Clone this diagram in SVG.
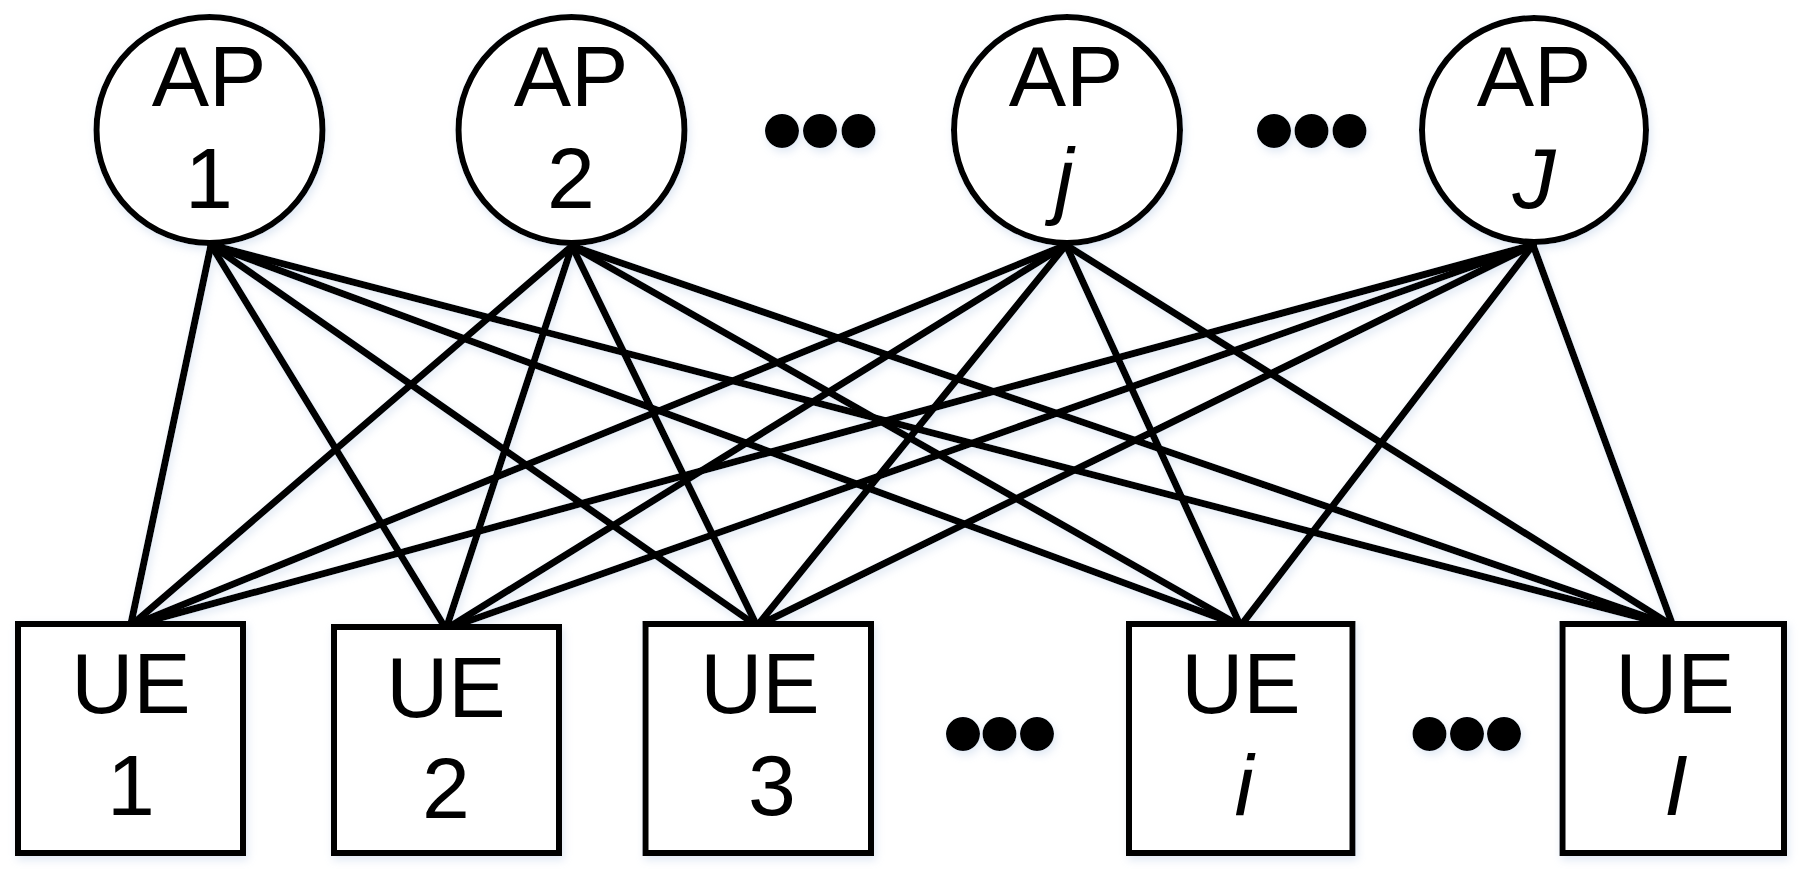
<svg xmlns="http://www.w3.org/2000/svg" width="1807" height="869" viewBox="0 0 1807 869">
<style>
.nd{fill:#fff;stroke:#000;stroke-width:6}
.ln{stroke:#000;stroke-width:7;stroke-linecap:round}
.t{font-family:"Liberation Sans",Arial,sans-serif;font-size:86px;fill:#000;text-anchor:middle}
.it{font-style:italic}
.dot{fill:#000}
</style>
<defs>
<filter id="sh" x="-10%" y="-10%" width="120%" height="120%">
<feGaussianBlur in="SourceAlpha" stdDeviation="4" result="b"/>
<feOffset dx="2" dy="4" in="b" result="o"/>
<feFlood flood-color="#b9cde6" flood-opacity="0.45"/>
<feComposite in2="o" operator="in" result="s"/>
<feMerge><feMergeNode in="s"/><feMergeNode in="SourceGraphic"/></feMerge>
</filter>
</defs>
<rect width="1807" height="869" fill="#fff"/>
<g filter="url(#sh)">
<g id="connectors">
<line class="ln" x1="211" y1="245" x2="130.5" y2="626"/>
<line class="ln" x1="211" y1="245" x2="446" y2="629"/>
<line class="ln" x1="211" y1="245" x2="757" y2="626"/>
<line class="ln" x1="211" y1="245" x2="1240.5" y2="626"/>
<line class="ln" x1="211" y1="245" x2="1673" y2="626"/>
<line class="ln" x1="572" y1="246" x2="130.5" y2="626"/>
<line class="ln" x1="572" y1="246" x2="446" y2="629"/>
<line class="ln" x1="572" y1="246" x2="757" y2="626"/>
<line class="ln" x1="572" y1="246" x2="1240.5" y2="626"/>
<line class="ln" x1="572" y1="246" x2="1673" y2="626"/>
<line class="ln" x1="1066" y1="245" x2="130.5" y2="626"/>
<line class="ln" x1="1066" y1="245" x2="446" y2="629"/>
<line class="ln" x1="1066" y1="245" x2="757" y2="626"/>
<line class="ln" x1="1066" y1="245" x2="1240.5" y2="626"/>
<line class="ln" x1="1066" y1="245" x2="1673" y2="626"/>
<line class="ln" x1="1533" y1="245" x2="130.5" y2="626"/>
<line class="ln" x1="1533" y1="245" x2="446" y2="629"/>
<line class="ln" x1="1533" y1="245" x2="757" y2="626"/>
<line class="ln" x1="1533" y1="245" x2="1240.5" y2="626"/>
<line class="ln" x1="1533" y1="245" x2="1673" y2="626"/>
</g>
<g id="ap1"><circle class="nd" cx="209.5" cy="130" r="113"/><text class="t" x="209" y="106">AP</text><text class="t" x="209" y="208">1</text></g>
<g id="ap2"><circle class="nd" cx="571.5" cy="130" r="113"/><text class="t" x="571" y="106">AP</text><text class="t" x="571" y="208">2</text></g>
<g id="apj"><circle class="nd" cx="1067" cy="130" r="113"/><text class="t" x="1066" y="106">AP</text><text class="t it" x="1064" y="208">j</text></g>
<g id="apJ"><circle class="nd" cx="1534" cy="130" r="112"/><text class="t" x="1534" y="106">AP</text><text class="t it" x="1534" y="208">J</text></g>
<g id="dots-ap1"><circle class="dot" cx="782" cy="131" r="17"/><circle class="dot" cx="820" cy="131" r="17"/><circle class="dot" cx="858.5" cy="131" r="17"/></g>
<g id="dots-ap2"><circle class="dot" cx="1274" cy="131" r="17"/><circle class="dot" cx="1311.5" cy="131" r="17"/><circle class="dot" cx="1349.5" cy="131" r="17"/></g>
<g id="ue1"><rect class="nd" x="18" y="624" width="225" height="229"/><text class="t" x="131" y="713">UE</text><text class="t" x="131" y="815">1</text></g>
<g id="ue2"><rect class="nd" x="334" y="627" width="225" height="226"/><text class="t" x="446" y="716.5">UE</text><text class="t" x="446" y="818">2</text></g>
<g id="ue3"><rect class="nd" x="645.5" y="624" width="225.5" height="229"/><text class="t" x="760" y="713">UE</text><text class="t" x="772" y="815">3</text></g>
<g id="uei"><rect class="nd" x="1129" y="624" width="223.5" height="229"/><text class="t" x="1241" y="713">UE</text><text class="t it" x="1244" y="815">i</text></g>
<g id="ueI"><rect class="nd" x="1562.5" y="624" width="221.5" height="229"/><text class="t" x="1675" y="713">UE</text><text class="t it" x="1676" y="815">I</text></g>
<g id="dots-ue1"><circle class="dot" cx="963" cy="734" r="17"/><circle class="dot" cx="999.5" cy="734" r="17"/><circle class="dot" cx="1037" cy="734" r="17"/></g>
<g id="dots-ue2"><circle class="dot" cx="1429.5" cy="734" r="17"/><circle class="dot" cx="1467" cy="734" r="17"/><circle class="dot" cx="1504" cy="734" r="17"/></g>
</g>
</svg>
